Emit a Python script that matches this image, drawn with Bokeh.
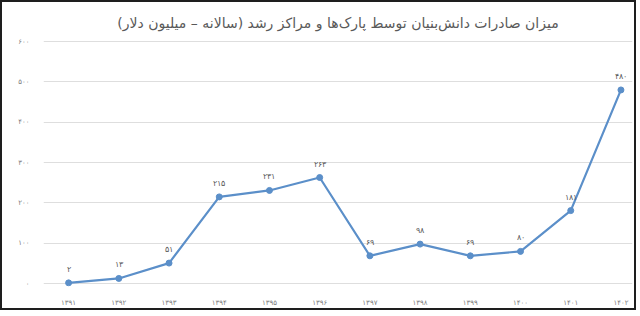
from bokeh.plotting import figure
from bokeh.models import ColumnDataSource, LabelSet, Range1d, FixedTicker, Title
from bokeh.embed import file_html
from bokeh.resources import INLINE

years = ["۱۳۹۱", "۱۳۹۲", "۱۳۹۳", "۱۳۹۴", "۱۳۹۵", "۱۳۹۶", "۱۳۹۷", "۱۳۹۸", "۱۳۹۹", "۱۴۰۰", "۱۴۰۱", "۱۴۰۲"]
values = [2, 13, 51, 215, 231, 263, 69, 98, 69, 80, 181, 480]
y_ticks = [0, 100, 200, 300, 400, 500, 600]
title_text = "میزان صادرات دانش‌بنیان توسط پارک‌ها و مراکز رشد (سالانه – میلیون دلار)"

FA = str.maketrans("0123456789", "۰۱۲۳۴۵۶۷۸۹")

def fa(n):
    return str(n).translate(FA)

xs = list(range(len(years)))
src = ColumnDataSource(dict(x=xs, y=values, lab=[fa(v) for v in values]))

p = figure(width=636, height=310, output_backend="svg", toolbar_location=None,
           x_range=Range1d(-0.5, 11.23), y_range=Range1d(-7, 605),
           min_border_left=41, min_border_right=6, min_border_top=37, min_border_bottom=26)
p.styles = {"border": "2px solid #1e1e1e"}
p.background_fill_color = "white"
p.border_fill_color = "white"
p.outline_line_color = None

t = Title(text=title_text, align="center", text_font_size="14px", text_color="#595959",
          text_font="DejaVu Sans", text_font_style="normal", offset=0, standoff=17)
p.add_layout(t, "above")

p.line("x", "y", source=src, line_color="#5B8FC9", line_width=2.2)
p.scatter("x", "y", source=src, size=6, fill_color="#5B8FC9", line_color="#5B8FC9")

labels = LabelSet(x="x", y="y", text="lab", source=src, y_offset=9, text_align="center",
                  text_font_size="8px", text_color="#5a5a5a", text_font="DejaVu Sans")
p.add_layout(labels)

p.xaxis.ticker = FixedTicker(ticks=xs)
p.xaxis.major_label_overrides = {i: y for i, y in enumerate(years)}
p.xaxis.axis_line_color = None
p.xaxis.major_tick_line_color = None
p.xaxis.minor_tick_line_color = None
p.xaxis.major_label_text_font_size = "7px"
p.xaxis.major_label_text_color = "#808080"
p.xaxis.major_label_standoff = 6
p.xaxis.major_label_text_font = "DejaVu Sans"

p.yaxis.ticker = FixedTicker(ticks=y_ticks)
p.yaxis.major_label_overrides = {v: fa(v) for v in y_ticks}
p.yaxis.axis_line_color = None
p.yaxis.major_tick_line_color = None
p.yaxis.minor_tick_line_color = None
p.yaxis.major_label_text_font_size = "7px"
p.yaxis.major_label_text_color = "#808080"
p.yaxis.major_label_standoff = 8
p.yaxis.major_label_text_font = "DejaVu Sans"

p.xgrid.grid_line_color = None
p.ygrid.grid_line_color = "#dedede"
p.ygrid.grid_line_width = 1

open("out.html", "w").write(file_html(p, INLINE))
